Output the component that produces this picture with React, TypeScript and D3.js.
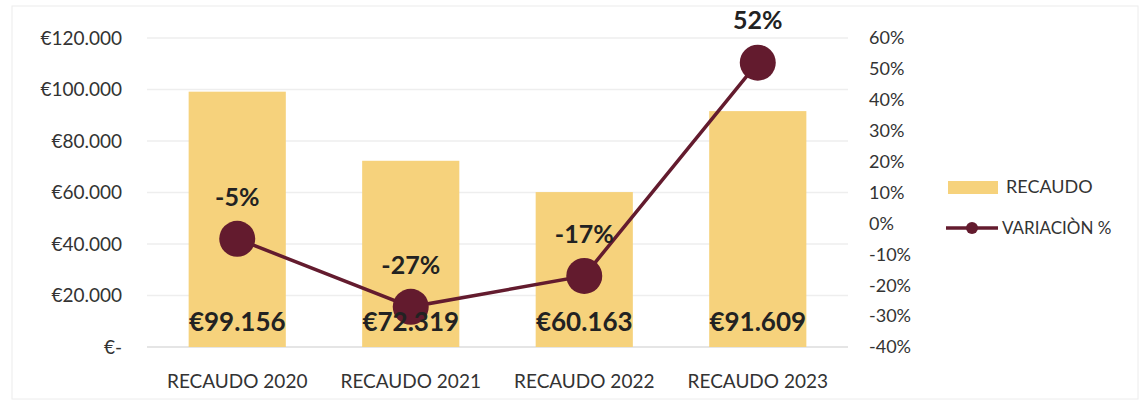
import React from "react";
import * as d3 from "d3";

const categories = ["RECAUDO 2020", "RECAUDO 2021", "RECAUDO 2022", "RECAUDO 2023"];
const recaudo = [99156, 72319, 60163, 91609];
const variacion = [-5, -27, -17, 52];
const leftTicks = [0, 20000, 40000, 60000, 80000, 100000, 120000];
const rightTicks = [-40, -30, -20, -10, 0, 10, 20, 30, 40, 50, 60];

const W = 1148, H = 405;
const BAR = "#f6d27c";
const LINE = "#631b2e";
const FONT = "Lato, 'Open Sans', sans-serif";

const fmtEuro = (v: number) => (v === 0 ? "€-" : "€" + d3.format(",")(v).replace(/,/g, "."));
const fmtPct = (v: number) => `${v}%`;

export default function App() {
  const left = 147, right = 848, top = 38, bottom = 347;
  const x = d3.scaleBand<string>().domain(categories).range([left, right]).paddingInner(0.44).paddingOuter(0.24);
  const y = d3.scaleLinear().domain([0, 120000]).range([bottom, top]);
  const y2 = d3.scaleLinear().domain([-40, 60]).range([bottom, top]);
  const cx = (c: string) => (x(c) as number) + x.bandwidth() / 2;
  const line = d3.line<number>().x((_, i) => cx(categories[i])).y((d) => y2(d));

  return (
    <svg width={W} height={H} style={{ position: "absolute", left: 0, top: 0, background: "#fff" }}>
      <rect x={12} y={6} width={W - 22} height={H - 12} fill="#fff" stroke="#ececec" />
      {leftTicks.map((t) => (
        <g key={t}>
          <line x1={left} x2={right} y1={y(t)} y2={y(t)} stroke={t === 0 ? "#dcdcdc" : "#eeeeee"} strokeWidth={1.5} />
          <text x={122} y={y(t)} dy="0.35em" textAnchor="end" fontFamily={FONT} fontSize={19} fill="#333">
            {fmtEuro(t)}
          </text>
        </g>
      ))}
      {rightTicks.map((t) => (
        <text key={t} x={869} y={y2(t)} dy="0.35em" textAnchor="start" fontFamily={FONT} fontSize={18} fill="#333">
          {fmtPct(t)}
        </text>
      ))}
      {categories.map((c, i) => (
        <g key={c}>
          <rect x={x(c)} y={y(recaudo[i])} width={x.bandwidth()} height={bottom - y(recaudo[i])} fill={BAR} />
          <text x={cx(c)} y={381} dy="0.35em" textAnchor="middle" fontFamily={FONT} fontSize={19} fill="#333">
            {c}
          </text>
        </g>
      ))}
      <path d={line(variacion) || ""} fill="none" stroke={LINE} strokeWidth={3.5} />
      {variacion.map((v, i) => (
        <circle key={i} cx={cx(categories[i])} cy={y2(v)} r={18} fill={LINE} />
      ))}
      {categories.map((c, i) => (
        <text key={c} x={cx(c)} y={322} dy="0.35em" textAnchor="middle" fontFamily={FONT} fontWeight="bold" fontSize={26} fill="#222">
          {fmtEuro(recaudo[i])}
        </text>
      ))}
      {variacion.map((v, i) => (
        <text key={i} x={cx(categories[i])} y={y2(v) - 42} dy="0.35em" textAnchor="middle" fontFamily={FONT} fontWeight="bold" fontSize={25} fill="#222">
          {fmtPct(v)}
        </text>
      ))}
      <rect x={948} y={181} width={50} height={13} fill={BAR} />
      <text x={1006} y={187} dy="0.35em" fontFamily={FONT} fontSize={18} fill="#333">RECAUDO</text>
      <line x1={946} x2={998} y1={228} y2={228} stroke={LINE} strokeWidth={3.5} />
      <circle cx={972} cy={228} r={6} fill={LINE} />
      <text x={1002} y={228} dy="0.35em" fontFamily={FONT} fontSize={17} fill="#333">VARIACIÒN %</text>
    </svg>
  );
}
